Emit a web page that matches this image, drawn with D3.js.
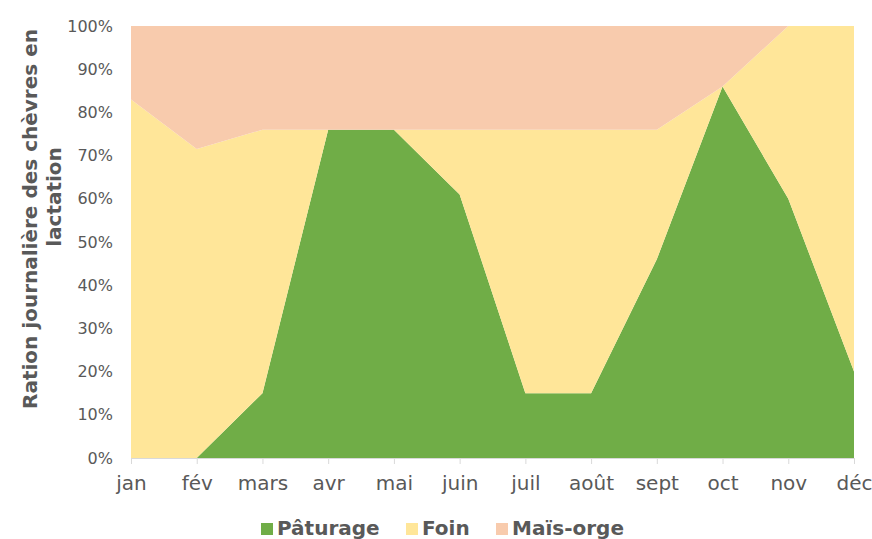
<!DOCTYPE html>
<html>
<head>
<meta charset="utf-8">
<script src="https://cdn.jsdelivr.net/npm/d3@7"></script>
<style>
  body { margin: 0; background: #fff; }
  svg text { font-family: "DejaVu Sans", sans-serif; fill: #595959; }
</style>
</head>
<body>
<div id="graph"></div>
<script>
// mois et part de la ration (%)
var months    = ["jan", "fév", "mars", "avr", "mai", "juin", "juil", "août", "sept", "oct", "nov", "déc"]
var paturage  = [0, 0, 15, 76, 76, 61, 15, 15, 46, 86, 60, 20]
var foin      = [83, 71.5, 61, 0, 0, 15, 61, 61, 30, 0, 40, 80]
var maisOrge  = [17, 28.5, 24, 24, 24, 24, 24, 24, 24, 14, 0, 0]
var yTicks    = [0, 10, 20, 30, 40, 50, 60, 70, 80, 90, 100]
var seriesNames = ["Pâturage", "Foin", "Maïs-orge"]
var colors      = ["#70AD47", "#FFE699", "#F8CBAD"]

var width = 872, height = 539
var margin = {top: 26, left: 131, right: 18, bottom: 81}

var svg = d3.select("#graph").append("svg")
            .attr("width", width).attr("height", height)

var x = d3.scalePoint().domain(months).range([margin.left, width - margin.right])
var y = d3.scaleLinear().domain([0, 100]).range([height - margin.bottom, margin.top])

var table = months.map(function(m, i) {
    return {month: m, "Pâturage": paturage[i], "Foin": foin[i], "Maïs-orge": maisOrge[i]}
})

var stack = d3.stack().keys(seriesNames)(table)

var area = d3.area()
             .x(function(d) { return x(d.data.month) })
             .y0(function(d) { return y(d[0]) })
             .y1(function(d) { return y(d[1]) })

svg.append("g").selectAll("path")
   .data(stack)
   .enter().append("path")
   .attr("d", area)
   .attr("fill", function(d, i) { return colors[i] })

// axe x
var xAxis = svg.append("g")
               .attr("transform", "translate(0," + y(0) + ")")
               .call(d3.axisBottom(x).tickSize(6).tickPadding(12))
xAxis.select(".domain").attr("stroke", "#D9D9D9")
xAxis.selectAll(".tick line").attr("stroke", "#D9D9D9")
xAxis.selectAll("text").attr("font-size", "20px").attr("fill", "#595959")
     .style("font-family", "'DejaVu Sans', sans-serif")

// axe y (étiquettes seulement)
var yAxis = svg.append("g")
               .attr("transform", "translate(" + (margin.left - 18) + ",0)")
               .call(d3.axisLeft(y).tickValues(yTicks).tickSize(0).tickPadding(0)
                       .tickFormat(function(d) { return d + "%" }))
yAxis.select(".domain").remove()
yAxis.selectAll("text").attr("font-size", "16px").attr("fill", "#595959")
     .style("font-family", "'DejaVu Sans', sans-serif")

// titre de l'axe y
var title = svg.append("g")
title.append("text")
     .attr("transform", "translate(37,219) rotate(-90)")
     .attr("text-anchor", "middle")
     .attr("font-size", "20px").attr("font-weight", "bold")
     .text("Ration journalière des chèvres en")
title.append("text")
     .attr("transform", "translate(61,197) rotate(-90)")
     .attr("text-anchor", "middle")
     .attr("font-size", "20px").attr("font-weight", "bold")
     .text("lactation")

// légende
var legendX = [261, 406, 496]
var legend = svg.append("g").selectAll("g")
                .data(seriesNames)
                .enter().append("g")
                .attr("transform", function(d, i) { return "translate(" + legendX[i] + ",523)" })
legend.append("rect")
      .attr("width", 12).attr("height", 12)
      .attr("fill", function(d, i) { return colors[i] })
legend.append("text")
      .attr("x", 16).attr("y", 12)
      .attr("font-size", "20px").attr("font-weight", "bold")
      .text(function(d) { return d })
</script>
</body>
</html>
